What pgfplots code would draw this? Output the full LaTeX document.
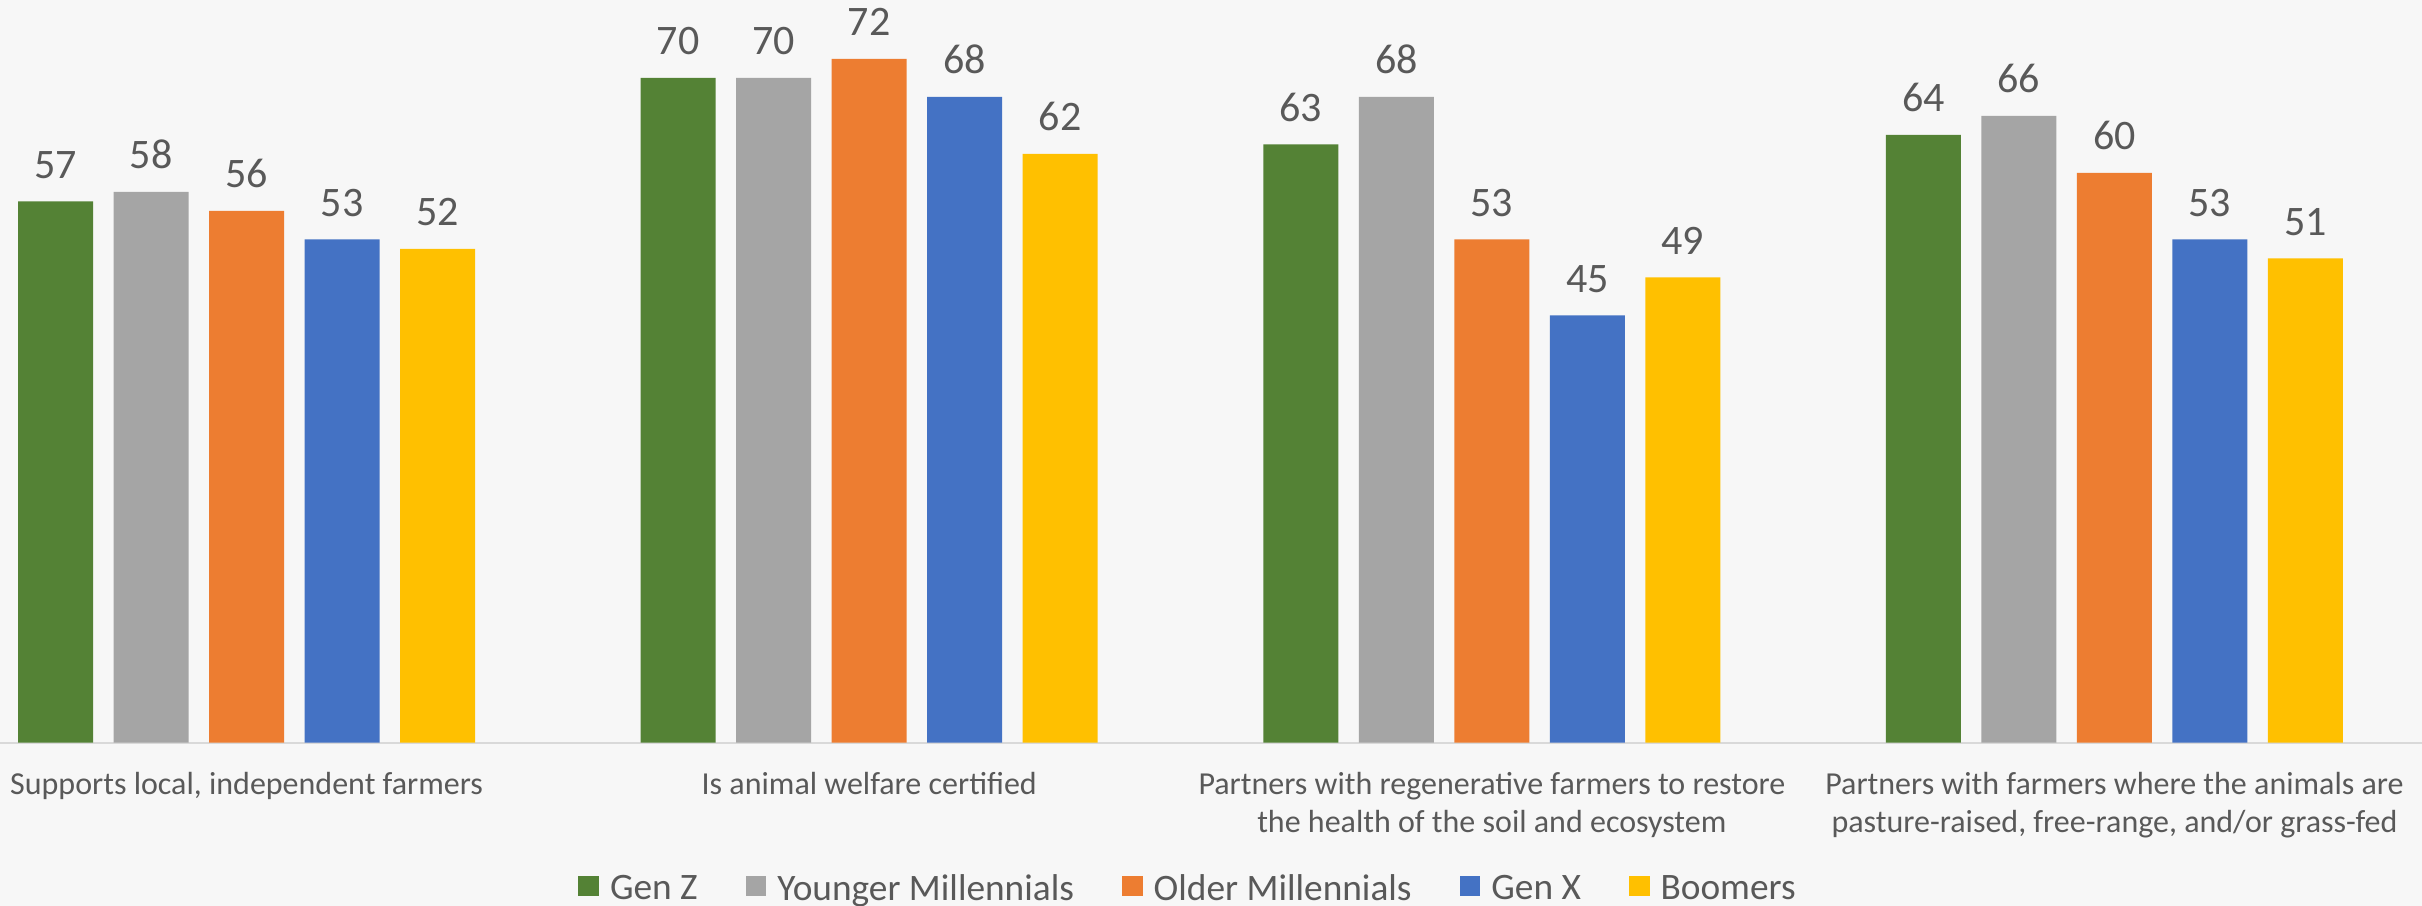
\documentclass[border=0pt]{standalone}
\usepackage{pgfplots}
\pgfplotsset{compat=1.18}
\usepackage{fontspec}
\setmainfont{Carlito}
\definecolor{cGenZ}{HTML}{548235}
\definecolor{cYM}{HTML}{A5A5A5}
\definecolor{cOM}{HTML}{ED7D31}
\definecolor{cGX}{HTML}{4472C4}
\definecolor{cBoom}{HTML}{FFC000}
\definecolor{txt}{HTML}{595959}
\definecolor{axisgrey}{HTML}{D9D9D9}
\definecolor{bg}{HTML}{F7F7F7}
\begin{document}
\begin{tikzpicture}
\fill[bg] (0,-48.99pt) rectangle (726.6pt,222.81pt);
\begin{axis}[
  at={(0,0)}, anchor=south west,
  scale only axis, width=726.6pt, height=222.81pt,
  xmin=-0.3961, xmax=3.494, ymin=0, ymax=78.2,
  ybar=6.15pt, bar width=22.5pt,
  axis y line=none, axis x line*=bottom,
  axis line style={-, draw=axisgrey, line width=0.6pt},
  xtick=\empty, ytick=\empty,
  clip=false,
  /pgf/number format/assume math mode=true,
  nodes near coords,
  every node near coord/.append style={font=\fontsize{12.6}{15}\selectfont, text=txt, anchor=base, yshift=6.9pt},
  legend columns=5,
  legend image code/.code={\fill[#1,draw=none] (0pt,-1.8pt) rectangle (6.2pt,4.4pt);},
  legend style={at={(axis description cs:0.4901,-0.2205)}, anchor=south, draw=none, fill=none,
    inner sep=0pt, font=\fontsize{11.2}{13}\selectfont, text=txt,
    nodes={inner sep=0pt},
    /tikz/every odd column/.append style={column sep=3.3pt},
    /tikz/every even column/.append style={column sep=14.4pt}},
]
\addplot[fill=cGenZ, draw=none] coordinates {(0,57) (1,70) (2,63) (3,64)};
\addplot[fill=cYM, draw=none] coordinates {(0,58) (1,70) (2,68) (3,66)};
\addplot[fill=cOM, draw=none] coordinates {(0,56) (1,72) (2,53) (3,60)};
\addplot[fill=cGX, draw=none] coordinates {(0,53) (1,68) (2,45) (3,53)};
\addplot[fill=cBoom, draw=none] coordinates {(0,52) (1,62) (2,49) (3,51)};
\legend{Gen Z, Younger Millennials, Older Millennials, Gen X, Boomers}
\begin{scope}[every node/.style={anchor=base, text=txt, font=\fontsize{9.6}{12}\selectfont, inner sep=0pt}]
\node[yshift=-15.6pt] at (axis cs:0,0) {Supports local, independent farmers};
\node[yshift=-15.6pt] at (axis cs:1,0) {Is animal welfare certified};
\node[yshift=-15.6pt] at (axis cs:2,0) {Partners with regenerative farmers to restore};
\node[yshift=-27.0pt] at (axis cs:2,0) {the health of the soil and ecosystem};
\node[yshift=-15.6pt] at (axis cs:3,0) {Partners with farmers where the animals are};
\node[yshift=-27.0pt] at (axis cs:3,0) {pasture-raised, free-range, and/or grass-fed};
\end{scope}
\end{axis}
\pgfresetboundingbox
\path[use as bounding box] (0,-48.99pt) rectangle (726.6pt,222.81pt);
\end{tikzpicture}
\end{document}
